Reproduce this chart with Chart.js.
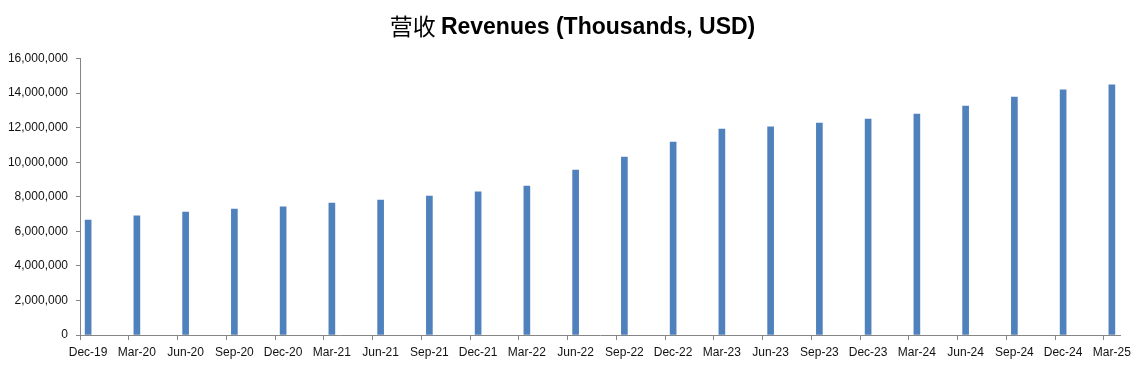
<!DOCTYPE html>
<html>
<head>
<meta charset="utf-8">
<script src="https://cdn.jsdelivr.net/npm/chart.js@4/dist/chart.umd.min.js"></script>
<style>
  html, body { margin: 0; padding: 0; background: #fff; }
  #wrap { width: 1139px; height: 369px; position: relative; }
</style>
</head>
<body>
<div id="wrap"><canvas id="c"></canvas></div>
<script>
// Quarter-end labels (one bar per quarter)
const quarters = ['Dec-19','Mar-20','Jun-20','Sep-20','Dec-20','Mar-21','Jun-21','Sep-21','Dec-21','Mar-22','Jun-22','Sep-22','Dec-22','Mar-23','Jun-23','Sep-23','Dec-23','Mar-24','Jun-24','Sep-24','Dec-24','Mar-25'];
// Revenues, thousands USD
const revenues = [6650000, 6890000, 7120000, 7290000, 7410000, 7640000, 7810000, 8040000, 8280000, 8620000, 9550000, 10300000, 11170000, 11920000, 12040000, 12270000, 12500000, 12790000, 13250000, 13770000, 14180000, 14470000];
const yTicks = [0, 2000000, 4000000, 6000000, 8000000, 10000000, 12000000, 14000000, 16000000];
const titleCn = '营收';
const titleEn = 'Revenues (Thousands, USD)';

// Monthly date-style axis: each quarter occupies a month slot, two empty months between
const monthLabels = [];
const monthValues = [];
quarters.forEach((q, i) => {
  monthLabels.push(q);
  monthValues.push(revenues[i]);
  if (i < quarters.length - 1) {
    monthLabels.push('', '');
    monthValues.push(null, null);
  }
});

const axisGray = '#868686';
const fontFam = "'Liberation Sans', Arial, sans-serif";

// Mixed-weight title: Chinese regular, English bold
const titlePlugin = {
  id: 'mixedTitle',
  afterDraw(chart) {
    const ctx = chart.ctx;
    ctx.save();
    ctx.fillStyle = '#000';
    ctx.textBaseline = 'alphabetic';
    const cnFont = "400 23px 'Noto Sans CJK SC', sans-serif";
    const enFont = "700 23px 'Liberation Sans', Arial, sans-serif";
    ctx.font = cnFont;
    const wCn = ctx.measureText(titleCn + ' ').width;
    ctx.font = enFont;
    const wEn = ctx.measureText(titleEn).width;
    const total = wCn + wEn;
    const x0 = chart.width / 2 - total / 2 + 3;
    const baseY = 33.5;
    ctx.textAlign = 'left';
    ctx.font = cnFont;
    ctx.fillText(titleCn + ' ', x0, baseY + 1);
    ctx.font = enFont;
    ctx.fillText(titleEn, x0 + wCn, baseY);
    ctx.restore();
  }
};

new Chart(document.getElementById('c'), {
  type: 'bar',
  data: {
    labels: monthLabels,
    datasets: [{
      label: 'Revenues',
      data: monthValues,
      backgroundColor: '#4F81BD',
      borderWidth: 0,
      barThickness: 6
    }]
  },
  plugins: [titlePlugin],
  options: {
    responsive: true,
    maintainAspectRatio: false,
    animation: false,
    layout: { padding: { left: 0, right: 19, top: 58.5, bottom: 0 } },
    plugins: {
      legend: { display: false },
      tooltip: { enabled: false },
      title: { display: false }
    },
    scales: {
      x: {
        type: 'category',
        offset: true,
        grid: {
          offset: true,
          drawOnChartArea: false,
          drawTicks: true,
          tickLength: 5,
          color: (ctx) => (ctx.index % 3 === 0 ? axisGray : 'rgba(0,0,0,0)')
        },
        border: { display: true, color: axisGray, width: 1 },
        ticks: {
          autoSkip: false,
          maxRotation: 0,
          minRotation: 0,
          padding: 5,
          color: '#111',
          font: { family: fontFam, size: 12 },
          callback: function (v, i) { return monthLabels[i]; }
        },
        afterFit: (s) => { s.height = 34; }
      },
      y: {
        min: 0,
        max: 16000000,
        afterBuildTicks: (s) => { s.ticks = yTicks.map(v => ({ value: v })); },
        grid: {
          drawOnChartArea: false,
          drawTicks: true,
          tickLength: 4,
          color: axisGray
        },
        border: { display: true, color: axisGray, width: 1 },
        ticks: {
          padding: 8,
          color: '#111',
          font: { family: fontFam, size: 12 },
          callback: (v) => Number(v).toLocaleString('en-US')
        },
        afterFit: (s) => { s.width = 80; }
      }
    }
  }
});
</script>
</body>
</html>
